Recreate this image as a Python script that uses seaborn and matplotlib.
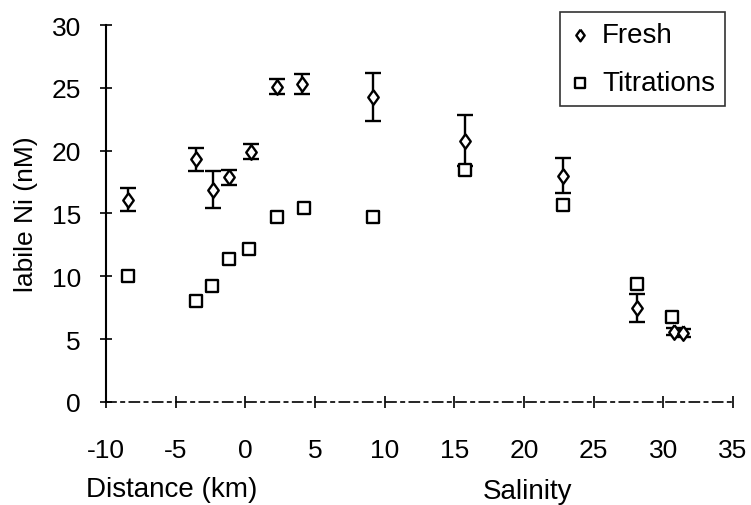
import numpy as np
import pandas as pd
import matplotlib
matplotlib.use("Agg")
import matplotlib.pyplot as plt
import seaborn as sns

# Fresh samples (x = distance for x<~10, salinity beyond)
fresh_x = [-8.4, -3.5, -2.3, -1.2, 0.4, 2.3, 4.1, 9.2, 15.8, 22.8, 28.1, 30.8, 31.4]
fresh_y = [16.1, 19.3, 16.9, 17.9, 19.9, 25.1, 25.3, 24.3, 20.8, 18.0, 7.5, 5.6, 5.5]
fresh_err = [0.9, 0.9, 1.5, 0.6, 0.6, 0.6, 0.8, 1.9, 2.0, 1.4, 1.1, 0.3, 0.3]

# Titrations
titr_x = [-8.4, -3.5, -2.4, -1.2, 0.3, 2.3, 4.2, 9.2, 15.8, 22.8, 28.1, 30.6]
titr_y = [10.0, 8.0, 9.2, 11.4, 12.2, 14.7, 15.4, 14.7, 18.5, 15.7, 9.4, 6.8]

xticks = list(range(-10, 40, 5))
yticks = list(range(0, 35, 5))

sns.set_style("ticks")
plt.rcParams['font.family'] = ['Liberation Sans', 'DejaVu Sans']
plt.rcParams['axes.unicode_minus'] = False
for key in ['text.color', 'axes.labelcolor', 'xtick.color', 'ytick.color', 'axes.edgecolor']:
    plt.rcParams[key] = 'black'

df = pd.concat([
    pd.DataFrame({'x': fresh_x, 'y': fresh_y, 'kind': 'Fresh'}),
    pd.DataFrame({'x': titr_x, 'y': titr_y, 'kind': 'Titrations'}),
], ignore_index=True)

# diamond a bit narrower than it is tall
diamond = [(0, 1), (0.72, 0), (0, -1), (-0.72, 0), (0, 1)]

fig = plt.figure(figsize=(7.51, 5.06), dpi=100)
ax = fig.add_axes([0.141, 0.2036, 0.835, 0.745])

ax.errorbar(fresh_x, fresh_y, yerr=fresh_err, fmt='none', ecolor='black',
            elinewidth=1.7, capsize=6, capthick=1.7, zorder=2)
sns.scatterplot(data=df[df.kind == 'Fresh'], x='x', y='y', marker=diamond,
                color='white', s=110, edgecolor='black', linewidth=1.7,
                ax=ax, zorder=3, label='Fresh')
sns.scatterplot(data=df[df.kind == 'Titrations'], x='x', y='y', marker='s',
                color='white', s=70, edgecolor='black', linewidth=1.7,
                ax=ax, zorder=3, label='Titrations')

ax.set_xlim(-10, 35)
ax.set_ylim(0, 30)
ax.set_xticks(xticks)
ax.set_yticks(yticks)
ax.set_xlabel('')
ax.set_ylabel('labile Ni (nM)', fontsize=19, labelpad=10)
ax.tick_params(direction='inout', length=8, width=1.2, labelsize=19)
ax.tick_params(axis='x', pad=22)
ax.tick_params(axis='y', pad=14)

sns.despine(ax=ax, top=True, right=True)
ax.spines['left'].set_linewidth(1.5)
ax.spines['bottom'].set_linewidth(1.2)
ax.spines['bottom'].set_linestyle((0, (6, 3, 2, 3)))

fig.text(0.229, 0.032, 'Distance (km)', ha='center', va='center', fontsize=20)
fig.text(0.703, 0.028, 'Salinity', ha='center', va='center', fontsize=20)

handles, labels = ax.get_legend_handles_labels()
leg = ax.legend(handles, labels, loc='upper right', bbox_to_anchor=(0.987, 1.034),
                frameon=True, fancybox=False, edgecolor='black', fontsize=20,
                handletextpad=0.45, borderpad=0.35, labelspacing=0.8, handlelength=0.7,
                borderaxespad=0, markerscale=0.8)
leg.get_frame().set_linewidth(1.2)

fig.savefig('out.png', dpi=100)
